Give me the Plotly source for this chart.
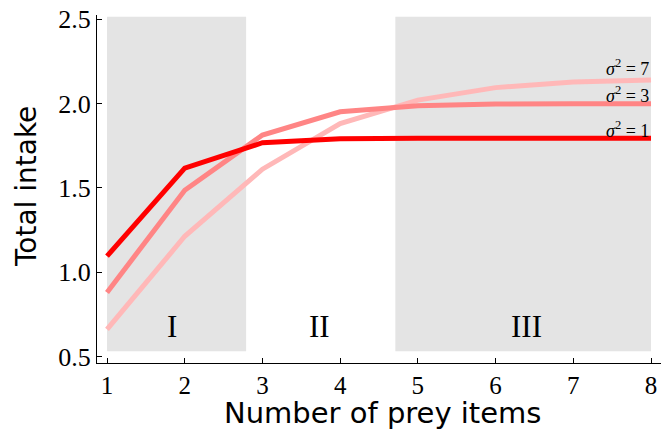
import plotly.graph_objects as go

prey_items = [1, 2, 3, 4, 5, 6, 7, 8]
intake_s1 = [1.095, 1.617, 1.768, 1.792, 1.795, 1.795, 1.795, 1.795]
intake_s3 = [0.88, 1.486, 1.814, 1.952, 1.988, 1.998, 2.0, 2.0]
intake_s7 = [0.66, 1.213, 1.611, 1.882, 2.021, 2.095, 2.128, 2.14]
series_labels = ["σ² = 1", "σ² = 3", "σ² = 7"]
label_y = [1.848, 2.055, 2.215]
regions = [(1.0, 2.79, "I"), (2.79, 4.71, "II"), (4.71, 8.0, "III")]
region_label_x = [1.84, 3.74, 6.4]
region_label_y = 0.676
y_ticks = [0.5, 1.0, 1.5, 2.0, 2.5]

colors = {"s1": "#ff0000", "s3": "#ff8585", "s7": "#ffb8b8"}

fig = go.Figure()

for x0, x1, name in regions:
    if name in ("I", "III"):
        fig.add_shape(type="rect", xref="x", yref="y", x0=x0, x1=x1, y0=0.53, y1=2.515,
                      fillcolor="#e4e4e4", line=dict(width=0), layer="below")

for ys, key in [(intake_s7, "s7"), (intake_s3, "s3"), (intake_s1, "s1")]:
    fig.add_trace(go.Scatter(x=prey_items, y=ys, mode="lines",
                             line=dict(color=colors[key], width=5),
                             showlegend=False, hoverinfo="skip"))

for (x0, x1, name), lx in zip(regions, region_label_x):
    fig.add_annotation(x=lx, y=region_label_y, text=name, showarrow=False,
                       xanchor="center", yanchor="middle",
                       font=dict(family="Liberation Serif", size=31, color="#000"))

for lab, ly in zip(series_labels, label_y):
    txt = "<i>σ</i><sup>2</sup> = " + lab.split("= ")[1]
    fig.add_annotation(x=8, y=ly, text=txt, showarrow=False,
                       xanchor="right", yanchor="middle",
                       font=dict(family="Liberation Serif", size=18, color="#000"))

# axis titles as annotations for exact placement
fig.add_annotation(xref="paper", yref="paper", x=0.5026, y=-0.145, text="Number of prey items",
                   showarrow=False, xanchor="center", yanchor="middle",
                   font=dict(family="DejaVu Sans", size=29, color="#000"))
fig.add_annotation(xref="paper", yref="paper", x=-0.123, y=0.506, text="Total intake",
                   showarrow=False, xanchor="center", yanchor="middle", textangle=-90,
                   font=dict(family="DejaVu Sans", size=28, color="#000"))

fig.update_xaxes(range=[0.871, 8.18], tickvals=prey_items, ticks="inside", ticklen=5,
                 tickcolor="#000", showline=True, linecolor="#000", linewidth=1,
                 showgrid=False, zeroline=False, automargin=False, ticklabeloverflow="allow",
                 tickfont=dict(family="Liberation Serif", size=25, color="#000"))
fig.update_yaxes(range=[0.461, 2.526], tickvals=y_ticks, ticktext=[f"{v:.1f}" for v in y_ticks],
                 ticks="inside", ticklen=5,
                 tickcolor="#000", showline=True, linecolor="#000", linewidth=1,
                 showgrid=False, zeroline=False, automargin=False, ticklabeloverflow="allow",
                 tickfont=dict(family="Liberation Serif", size=26, color="#000"))

# the page body has an 8px default margin, so the figure is sized to fit the window
fig.update_layout(width=661, height=421, margin=dict(l=89, r=4, t=7, b=66, autoexpand=False),
                  plot_bgcolor="white", paper_bgcolor="white")

fig.write_html("out.html")
